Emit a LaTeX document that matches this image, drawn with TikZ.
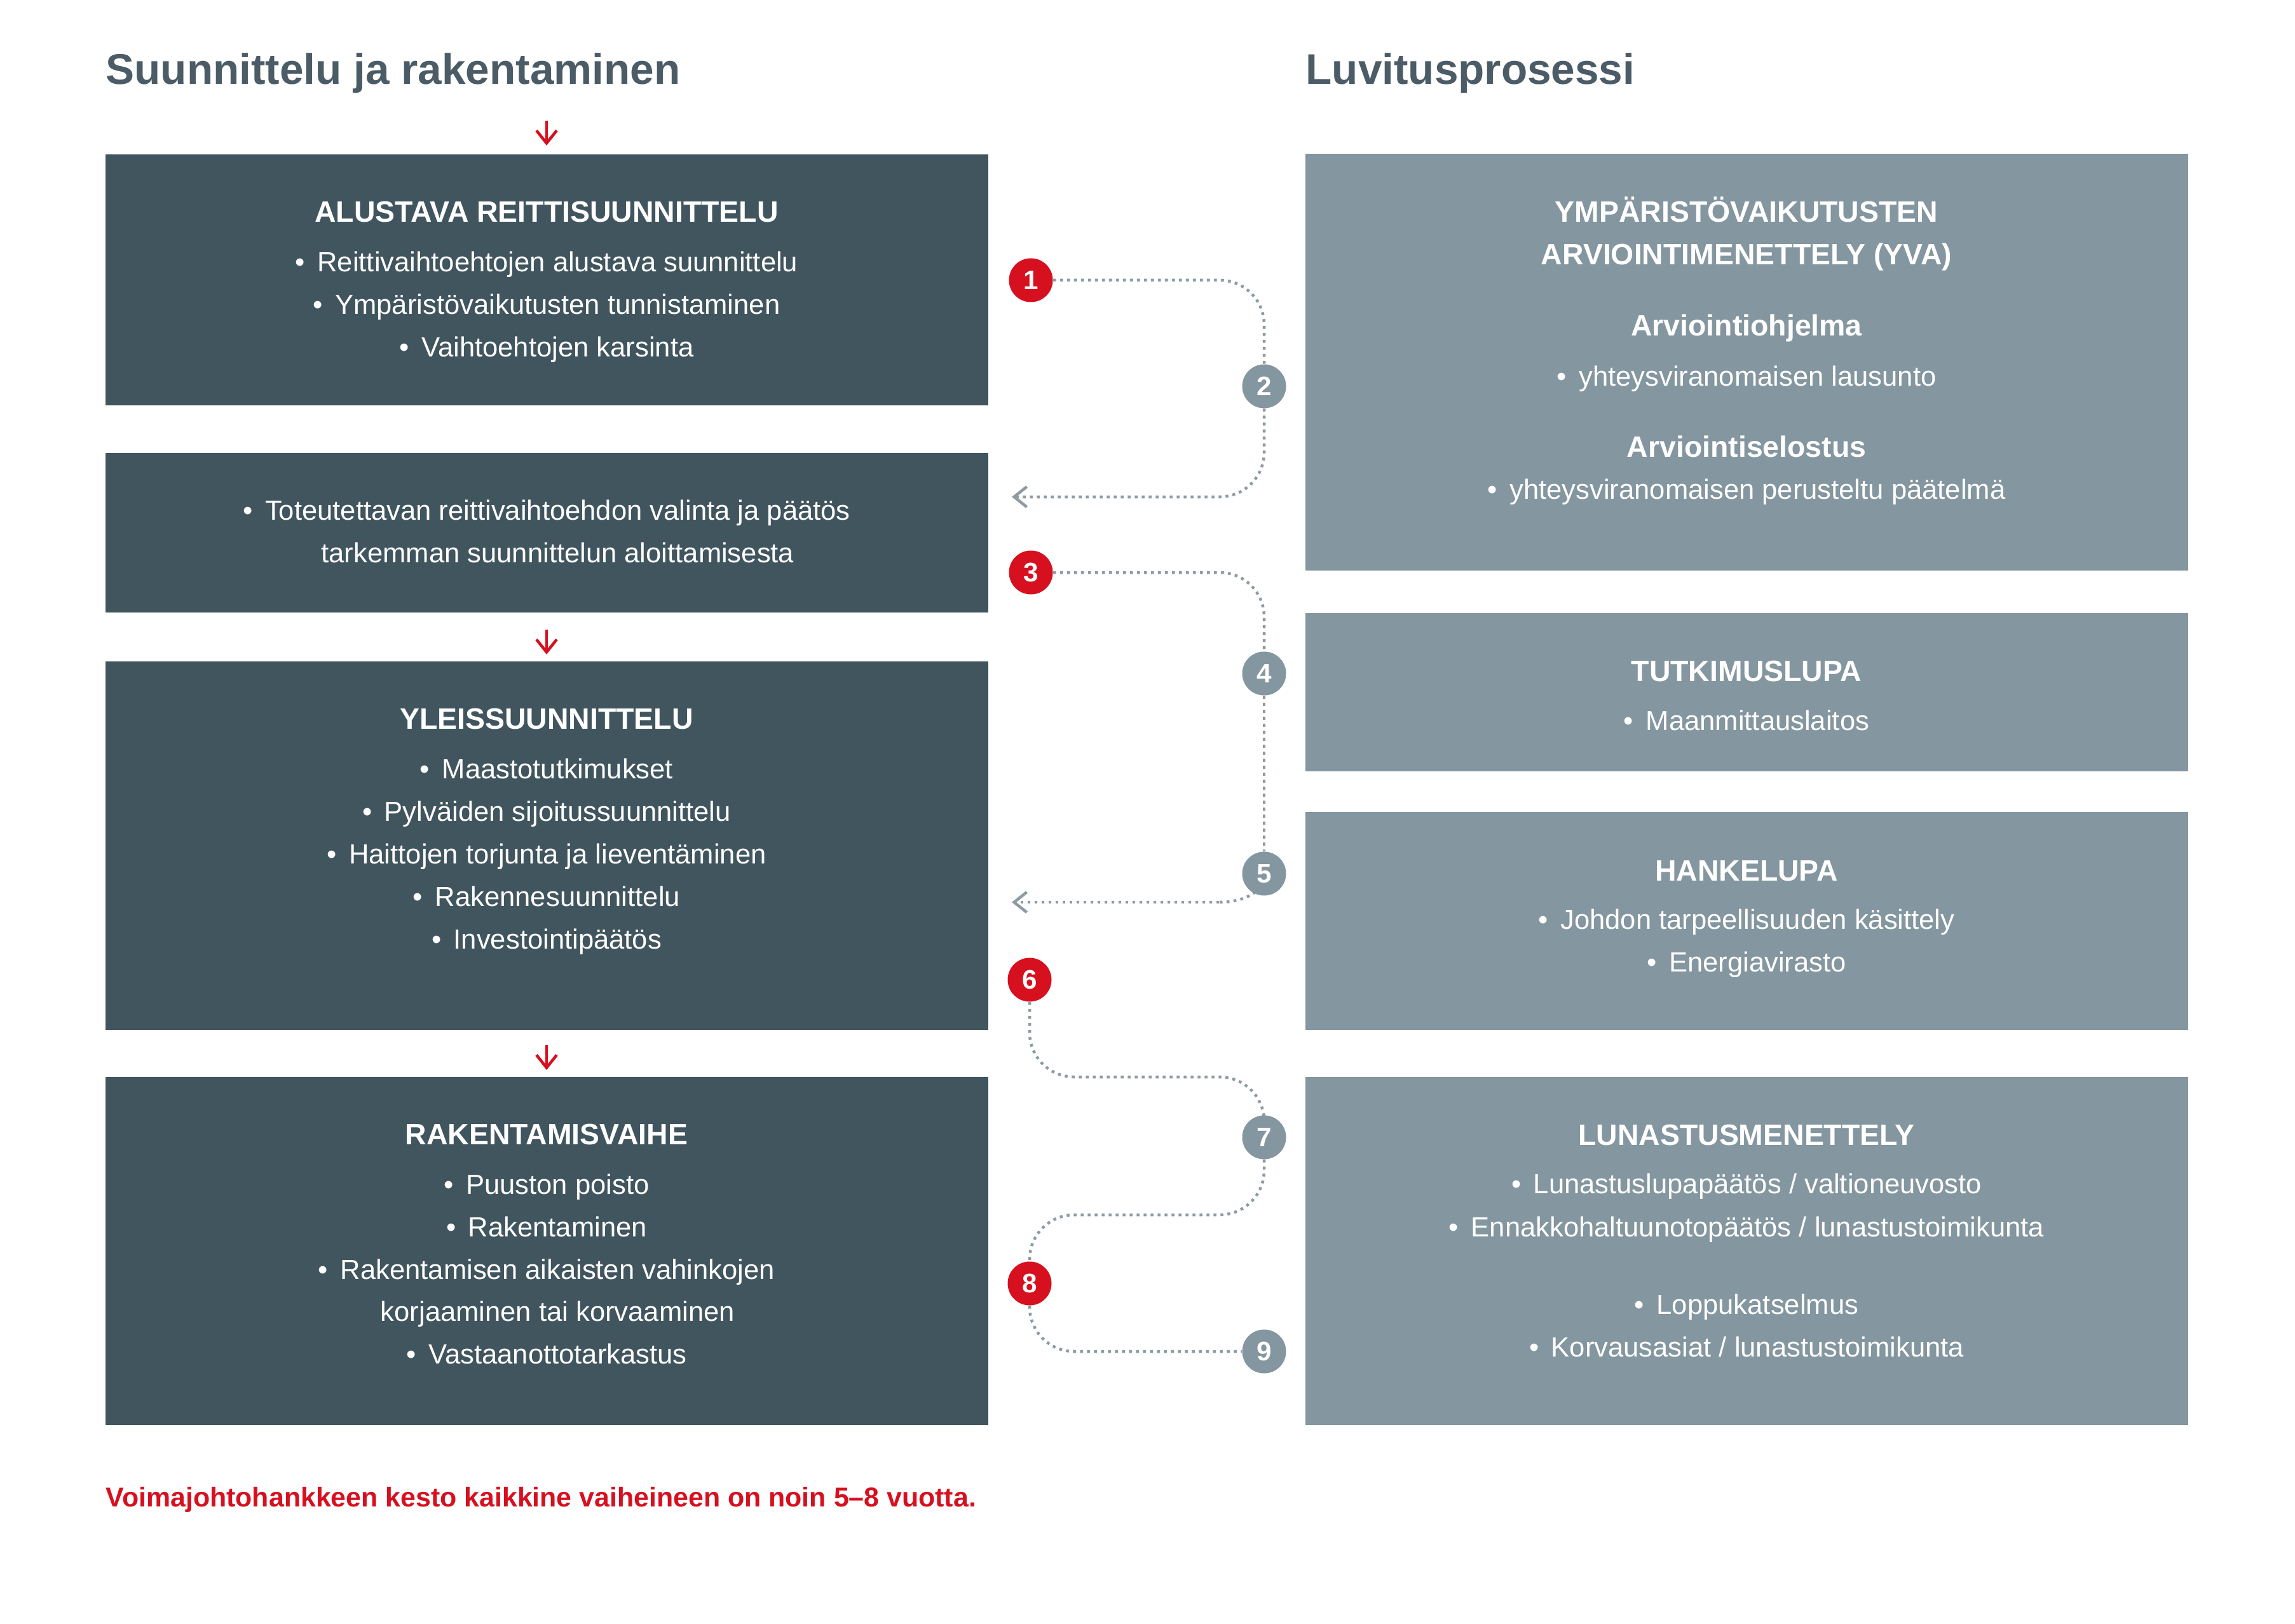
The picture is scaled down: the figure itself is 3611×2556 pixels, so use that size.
\documentclass[tikz,border=0pt]{standalone}
\usepackage{fontspec}
\setmainfont{Liberation Sans}
\usetikzlibrary{arrows.meta,backgrounds}
\definecolor{darkbox}{HTML}{41555F}
\definecolor{lightbox}{HTML}{84969F}
\definecolor{titlecol}{HTML}{4B5C67}
\definecolor{redc}{HTML}{D7101F}
\definecolor{dotc}{HTML}{8D9BA2}
\tikzset{
  lbox/.style={fill=darkbox, draw=none, inner sep=0pt, outer sep=0pt, anchor=north west, minimum width=138.9mm},
  rbox/.style={fill=lightbox, draw=none, inner sep=0pt, outer sep=0pt, anchor=north west, minimum width=138.9mm},
  tx/.style={text=white, inner sep=0pt, anchor=base, font=\fontsize{12.4}{14}\selectfont},
  hd/.style={text=white, inner sep=0pt, anchor=base, font=\fontsize{13.2}{15}\selectfont\bfseries},
  ttl/.style={text=titlecol, inner sep=0pt, anchor=base west, font=\fontsize{19.2}{24}\selectfont\bfseries},
  foot/.style={text=redc, inner sep=0pt, anchor=base west, font=\fontsize{12.2}{14}\selectfont\bfseries},
  rnum/.style={circle, fill=redc, text=white, inner sep=0pt, minimum size=6.9mm, font=\fontsize{12}{12}\selectfont\bfseries},
  gnum/.style={circle, fill=lightbox, text=white, inner sep=0pt, minimum size=6.9mm, font=\fontsize{12}{12}\selectfont\bfseries},
  dotl/.style={draw=dotc, line width=0.45mm, dash pattern=on 0.45mm off 0.65mm, rounded corners=7mm},
  garr/.style={-{Straight Barb[length=2mm,width=3.2mm]}},
  redarr/.style={draw=redc, line width=0.45mm, -{Straight Barb[length=2mm,width=3.2mm]}}
}
\newcommand{\blt}{•\hspace{0.45em}}
\newcommand{\nblt}{\phantom{•\hspace{0.45em}}}
\begin{document}
\begin{tikzpicture}[x=0.1mm, y=-0.1mm]
\useasboundingbox (0,0) rectangle (3611,2556);
\begin{scope}[on background layer]
\fill[white] (0,0) rectangle (3611,2556);
\end{scope}

% titles
\node[ttl] (t1) at (166,133) {Suunnittelu ja rakentaminen};
\node[ttl] (t2) at (2054,133) {Luvitusprosessi};

% left boxes
\node[lbox, minimum height=39.5mm] (b1) at (166,243) {};
\node[lbox, minimum height=25.1mm] (b2) at (166,713) {};
\node[lbox, minimum height=58.0mm] (b3) at (166,1041) {};
\node[lbox, minimum height=54.8mm] (b4) at (166,1695) {};

% right boxes
\node[rbox, minimum height=65.6mm] (r1) at (2054,242) {};
\node[rbox, minimum height=24.9mm] (r2) at (2054,965) {};
\node[rbox, minimum height=34.3mm] (r3) at (2054,1278) {};
\node[rbox, minimum height=54.8mm] (r4) at (2054,1695) {};

% box 1 text
\node[hd] (b1h) at (860,350) {ALUSTAVA REITTISUUNNITTELU};
\node[tx] (b1a) at (860,428) {\blt Reittivaihtoehtojen alustava suunnittelu};
\node[tx] (b1b) at (860,495) {\blt Ympäristövaikutusten tunnistaminen};
\node[tx] (b1c) at (860,562) {\blt Vaihtoehtojen karsinta};

% box 2 text
\node[tx] (b2a) at (860,818) {\blt Toteutettavan reittivaihtoehdon valinta ja päätös};
\node[tx] (b2b) at (860,885) {\nblt tarkemman suunnittelun aloittamisesta};

% box 3 text
\node[hd] (b3h) at (860,1147) {YLEISSUUNNITTELU};
\node[tx] (b3a) at (860,1225) {\blt Maastotutkimukset};
\node[tx] (b3b) at (860,1292) {\blt Pylväiden sijoitussuunnittelu};
\node[tx] (b3c) at (860,1359) {\blt Haittojen torjunta ja lieventäminen};
\node[tx] (b3d) at (860,1426) {\blt Rakennesuunnittelu};
\node[tx] (b3e) at (860,1493) {\blt Investointipäätös};

% box 4 text
\node[hd] (b4h) at (860,1801) {RAKENTAMISVAIHE};
\node[tx] (b4a) at (860,1879) {\blt Puuston poisto};
\node[tx] (b4b) at (860,1946) {\blt Rakentaminen};
\node[tx] (b4c) at (860,2013) {\blt Rakentamisen aikaisten vahinkojen};
\node[tx] (b4d) at (860,2079) {\nblt korjaaminen tai korvaaminen};
\node[tx] (b4e) at (860,2146) {\blt Vastaanottotarkastus};

% right box 1 text
\node[hd] (r1h1) at (2748,350) {YMPÄRISTÖVAIKUTUSTEN};
\node[hd] (r1h2) at (2748,417) {ARVIOINTIMENETTELY (YVA)};
\node[hd] (r1s1) at (2748,529) {Arviointiohjelma};
\node[tx] (r1a) at (2748,608) {\blt yhteysviranomaisen lausunto};
\node[hd] (r1s2) at (2748,719) {Arviointiselostus};
\node[tx] (r1b) at (2748,785) {\blt yhteysviranomaisen perusteltu päätelmä};

% right box 2 text
\node[hd] (r2h) at (2748,1072) {TUTKIMUSLUPA};
\node[tx] (r2a) at (2748,1149) {\blt Maanmittauslaitos};

% right box 3 text
\node[hd] (r3h) at (2748,1386) {HANKELUPA};
\node[tx] (r3a) at (2748,1462) {\blt Johdon tarpeellisuuden käsittely};
\node[tx] (r3b) at (2748,1529) {\blt Energiavirasto};

% right box 4 text
\node[hd] (r4h) at (2748,1802) {LUNASTUSMENETTELY};
\node[tx] (r4a) at (2748,1878) {\blt Lunastuslupapäätös / valtioneuvosto};
\node[tx] (r4b) at (2748,1946) {\blt Ennakkohaltuunotopäätös / lunastustoimikunta};
\node[tx] (r4c) at (2748,2068) {\blt Loppukatselmus};
\node[tx] (r4d) at (2748,2135) {\blt Korvausasiat / lunastustoimikunta};

% footer
\node[foot] (ft) at (166,2371) {Voimajohtohankkeen kesto kaikkine vaiheineen on noin 5–8 vuotta.};

% red down arrows
\coordinate (ra1s) at (860,190);
\coordinate (ra1e) at (860,229);
\coordinate (ra2s) at (860,991);
\coordinate (ra2e) at (860,1030);
\coordinate (ra3s) at (860,1645);
\coordinate (ra3e) at (860,1684);
\draw[redarr] (ra1s) -- (ra1e);
\draw[redarr] (ra2s) -- (ra2e);
\draw[redarr] (ra3s) -- (ra3e);

% numbered circles
\node[rnum] (c1) at (1622,441) {1};
\node[gnum] (c2) at (1989,608) {2};
\node[rnum] (c3) at (1622,901) {3};
\node[gnum] (c4) at (1989,1060) {4};
\node[gnum] (c5) at (1989,1375) {5};
\node[rnum] (c6) at (1620,1542) {6};
\node[gnum] (c7) at (1989,1790) {7};
\node[rnum] (c8) at (1620,2020) {8};
\node[gnum] (c9) at (1989,2127) {9};

\coordinate (a1) at (1592,782);
\coordinate (a2) at (1592,1420);
\coordinate (m1) at (1800,1695);
\coordinate (m2) at (1800,1912);
\coordinate (k5) at (1918,1420);

\begin{scope}[on background layer]
\draw[dotl] (c1) -| (c2);
\draw[dotl, garr] (c2) |- (a1);
\draw[dotl] (c3) -| (c4);
\draw[dotl] (c4) -- (c5);
\draw[dotl] (c5.center) to[out=-90, in=0] (k5);
\draw[dotl, garr] (k5) -- (a2);
\draw[dotl] (c6) |- (m1) -| (c7);
\draw[dotl] (c7) |- (m2) -| (c8);
\draw[dotl] (c8) |- (c9);
\end{scope}
\end{tikzpicture}
\end{document}
